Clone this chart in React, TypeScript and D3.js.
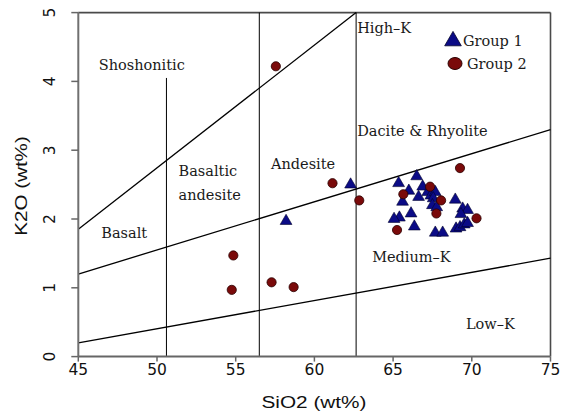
import React from "react";
import * as d3 from "d3";

// SiO2 vs K2O classification diagram (Peccerillo & Taylor style)

const xTicks = [45, 50, 55, 60, 65, 70, 75];
const yTicks = [0, 1, 2, 3, 4, 5];

// Group 1 samples: [SiO2, K2O]
const group1SiO2 = [58.2, 62.3, 66.5, 65.35, 66.0, 66.88, 67.2, 67.4, 67.68, 67.55, 65.6, 66.62, 67.5, 67.77, 66.14, 65.4, 65.06, 68.95, 69.42, 69.73, 69.31, 66.35, 67.68, 68.15, 69.0, 69.25, 69.52, 69.73];
const group1K2O = [1.97, 2.5, 2.62, 2.52, 2.41, 2.47, 2.39, 2.34, 2.39, 2.3, 2.25, 2.32, 2.2, 2.17, 2.08, 2.02, 2.0, 2.28, 2.15, 2.13, 2.07, 1.89, 1.8, 1.8, 1.86, 1.88, 1.92, 1.94];

// Group 2 samples: [SiO2, K2O]
const group2SiO2 = [57.55, 61.15, 62.85, 54.85, 54.75, 57.28, 58.68, 69.25, 70.3, 67.35, 65.65, 68.05, 67.75, 65.25];
const group2K2O = [4.22, 2.52, 2.27, 1.47, 0.97, 1.08, 1.01, 2.74, 2.01, 2.47, 2.36, 2.27, 2.08, 1.84];

// Field boundaries
const shoshoniticLine: [number, number][] = [[45, 1.85], [62.65, 5]];
const highKLine: [number, number][] = [[45, 1.2], [75, 3.3]];
const lowKLine: [number, number][] = [[45, 0.2], [75, 1.43]];
const dividerSiO2 = [50.6, 56.5, 62.65];
const dividerTop = [4.05, 5, 5];

// Field names with anchor positions in data units
const fieldNames = ["Shoshonitic", "High–K", "Basaltic", "andesite", "Andesite", "Dacite & Rhyolite", "Basalt", "Medium–K", "Low–K"];
const fieldX = [46.3, 62.72, 51.37, 51.37, 57.24, 62.72, 46.46, 63.67, 69.63];
const fieldY = [4.16, 4.7, 2.63, 2.27, 2.72, 3.21, 1.73, 1.37, 0.4];

const legendNames = ["Group 1", "Group 2"];

const W = 562;
const H = 414;

export default function App() {
  const x = d3.scaleLinear().domain([45, 75]).range([78.3, 550.5]);
  const y = d3.scaleLinear().domain([0, 5]).range([356.6, 12.6]);
  const line = d3.line<[number, number]>().x((d) => x(d[0])).y((d) => y(d[1]));
  const tri = d3.symbol().type(d3.symbolTriangle).size(60)()!;
  const triLegend = d3.symbol().type(d3.symbolTriangle).size(120)()!;

  const labelFont = "'DejaVu Serif', 'Liberation Serif', serif";
  const sansFont = "'DejaVu Sans', 'Liberation Sans', sans-serif";
  const titleFont = "'Liberation Sans', Arial, sans-serif";
  const triFill = "#0b0b86";
  const triStroke = "#00002a";
  const dotFill = "#7a0a0a";
  const dotStroke = "#2a0000";

  return (
    <svg
      width={W}
      height={H}
      style={{ position: "absolute", left: 0, top: 0, background: "#fff" }}
    >
      {/* frame: top and right */}
      <line x1={x(45)} x2={x(75)} y1={y(5)} y2={y(5)} stroke="#4a4a4a" strokeWidth={1.6} />
      <line x1={x(75)} x2={x(75)} y1={y(5)} y2={y(0)} stroke="#4a4a4a" strokeWidth={1.6} />

      {/* field boundaries */}
      {[shoshoniticLine, highKLine, lowKLine].map((l, i) => (
        <path key={i} d={line(l)!} fill="none" stroke="#000" strokeWidth={1.3} />
      ))}
      {dividerSiO2.map((s, i) => (
        <line key={i} x1={x(s)} x2={x(s)} y1={y(0)} y2={y(dividerTop[i])} stroke="#000" strokeWidth={1} />
      ))}

      {/* field names */}
      {fieldNames.map((n, i) => (
        <text key={n} x={x(fieldX[i])} y={y(fieldY[i])} fontFamily={labelFont} fontSize={14.5} fill="#1a1a1a">
          {n}
        </text>
      ))}

      {/* left and bottom axes */}
      <line x1={x(45)} x2={x(45)} y1={y(5)} y2={y(0)} stroke="#707070" strokeWidth={2} />
      <line x1={x(45)} x2={x(75)} y1={y(0)} y2={y(0)} stroke="#666" strokeWidth={2} />
      {xTicks.map((t) => (
        <g key={t}>
          <line x1={x(t)} x2={x(t)} y1={y(0)} y2={y(0) + 5} stroke="#666" strokeWidth={1.5} />
          <text x={x(t)} y={374.5} textAnchor="middle" fontFamily={sansFont} fontSize={15.5} fill="#111">
            {t}
          </text>
        </g>
      ))}
      {yTicks.map((t) => (
        <g key={t}>
          <line x1={x(45) - 7} x2={x(45)} y1={y(t)} y2={y(t)} stroke="#666" strokeWidth={1.5} />
          <text
            x={55}
            y={y(t)}
            textAnchor="middle"
            transform={`rotate(-90, 55, ${y(t)})`}
            fontFamily={sansFont}
            fontSize={15.5}
            fill="#111"
          >
            {t}
          </text>
        </g>
      ))}
      <text
        x={0}
        y={0}
        textAnchor="middle"
        transform="translate(314,408) scale(1.26,1)"
        fontFamily={titleFont}
        fontSize={16.5}
        fill="#111"
      >
        SiO2 (wt%)
      </text>
      <text
        x={0}
        y={0}
        textAnchor="middle"
        transform="translate(26.5,186) rotate(-90) scale(1.25,1)"
        fontFamily={titleFont}
        fontSize={16.5}
        fill="#111"
      >
        K2O (wt%)
      </text>

      {/* samples */}
      {group1SiO2.map((s, i) => (
        <path
          key={"g1" + i}
          d={tri}
          transform={`translate(${x(s)},${y(group1K2O[i])})`}
          fill={triFill}
          stroke={triStroke}
          strokeWidth={0.6}
        />
      ))}
      {group2SiO2.map((s, i) => (
        <circle
          key={"g2" + i}
          cx={x(s)}
          cy={y(group2K2O[i])}
          r={4.6}
          fill={dotFill}
          stroke={dotStroke}
          strokeWidth={0.8}
        />
      ))}

      {/* legend */}
      <path d={triLegend} transform="translate(453,41)" fill={triFill} stroke={triStroke} strokeWidth={0.8} />
      <text x={463} y={45.5} fontFamily={labelFont} fontSize={14.5} fill="#1a1a1a">
        {legendNames[0]}
      </text>
      <ellipse cx={455} cy={63.5} rx={7} ry={6} fill={dotFill} stroke={dotStroke} strokeWidth={1} />
      <text x={467} y={68.5} fontFamily={labelFont} fontSize={14.5} fill="#1a1a1a">
        {legendNames[1]}
      </text>
    </svg>
  );
}
